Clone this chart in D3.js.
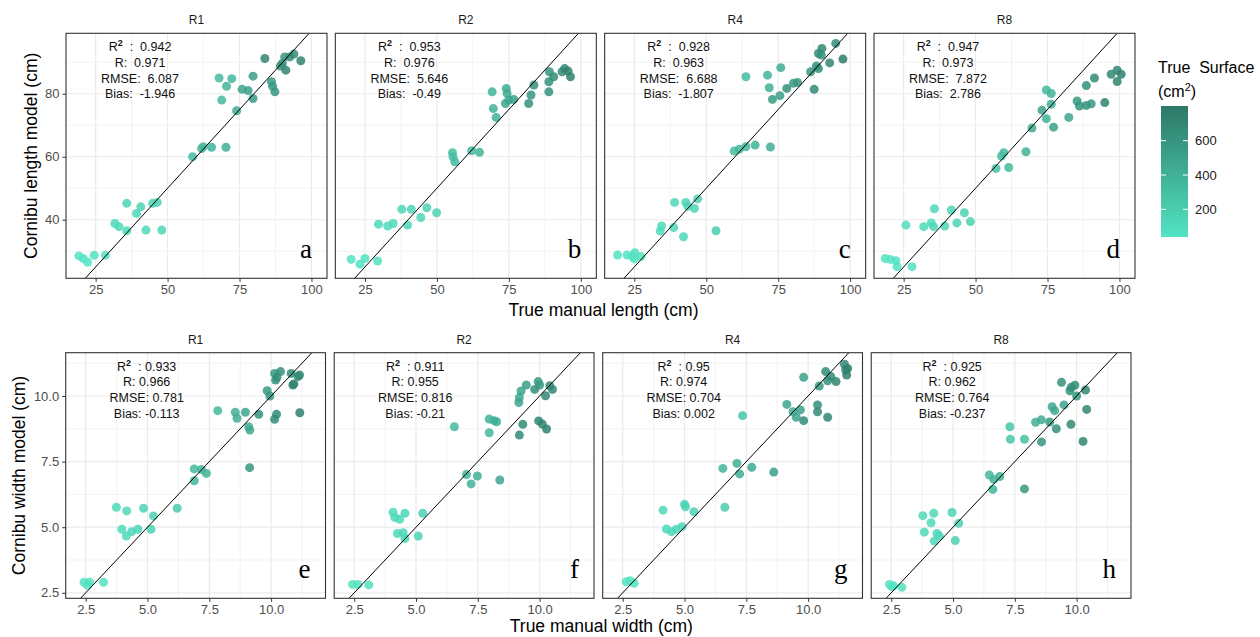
<!DOCTYPE html>
<html>
<head>
<meta charset="utf-8">
<script src="https://cdn.jsdelivr.net/npm/d3@7"></script>
<style>
  html, body { margin: 0; padding: 0; background: #fff; }
  svg { display: block; font-family: "Liberation Sans", Arial, sans-serif; }
</style>
</head>
<body>
<svg id="chart" width="1260" height="637"></svg>
<script>
// ---- data: [true manual, Cornibu model, true surface (cm²)] ----
const panelNames = ["R1", "R2", "R4", "R8"];

const lengthR1 = [
  [19.2,28.5,45],[20.7,27.7,50],[22.2,26.5,42],[24.5,28.7,55],[28.4,28.7,62],
  [31.7,38.8,120],[33.1,37.8,112],[35.8,45.2,140],[35.8,36.5,115],[39.2,42.0,130],
  [40.7,44.1,150],[42.5,36.7,125],[44.8,45.2,160],[46.4,45.5,170],[48.0,36.7,145],
  [58.7,60.0,330],[61.8,62.6,350],[62.4,63.2,360],[65.3,63.0,370],[70.3,63.0,420],
  [67.9,85.0,330],[68.8,78.0,340],[70.5,82.4,380],[72.3,84.8,360],[74.0,74.6,440],
  [75.9,81.4,500],[78.0,81.0,520],[79.7,85.6,540],[79.7,78.5,560],[83.8,91.2,700],
  [86.1,83.8,560],[86.5,82.4,580],[87.3,80.6,600],[89.2,88.8,620],[90.7,91.7,600],
  [91.1,87.5,720],[92.5,91.7,650],[93.9,92.6,680],[96.3,90.5,720],[89.9,89.6,640]
];
const lengthR2 = [
  [20.2,27.4,45],[23.3,25.9,50],[25.0,27.7,55],[29.4,26.9,60],
  [29.7,38.6,110],[32.9,38.0,115],[34.8,38.8,120],[37.8,43.3,130],[39.8,38.3,135],
  [41.1,43.3,140],[44.4,40.7,150],[46.5,43.8,160],[49.9,42.2,175],
  [55.4,61.3,310],[55.6,60.0,320],[56.2,58.4,330],[62.1,61.9,360],[64.8,61.4,380],
  [69.2,80.6,380],[69.6,75.3,400],[70.6,72.5,420],[74.1,81.7,430],[74.4,80.1,450],
  [73.8,76.9,470],[75.0,78.0,480],[76.7,78.2,500],[81.9,76.9,620],[82.7,79.6,600],
  [83.7,82.8,620],[88.9,80.6,640],[88.9,83.8,620],[89.1,87.0,600],[90.6,85.4,660],
  [93.5,87.0,680],[94.4,88.0,700],[95.6,87.2,720],[96.4,85.4,740]
];
const lengthR4 = [
  [19.2,28.8,45],[22.5,28.8,50],[24.4,28.3,52],[25.2,29.5,55],[27.3,28.3,60],[25.0,27.6,48],
  [34.0,36.4,110],[34.5,38.0,115],[38.7,37.5,125],[39.0,45.5,130],[42.1,34.6,135],
  [42.9,45.5,145],[43.6,44.3,150],[45.9,43.6,160],[47.0,46.6,170],[53.4,36.5,200],
  [59.7,61.8,330],[61.5,62.4,350],[63.8,63.2,370],[67.0,63.7,390],[72.3,63.1,420],
  [63.8,85.4,330],[71.3,85.9,400],[71.9,81.9,420],[75.9,88.3,430],[73.0,78.2,560],
  [75.6,79.4,520],[78.0,81.7,620],[80.3,83.3,560],[81.7,83.6,580],[86.3,87.0,600],
  [87.5,81.4,680],[88.3,88.8,620],[89.0,88.0,640],[90.2,94.4,680],[89.0,92.8,660],
  [90.0,92.3,620],[92.9,89.8,700],[95.0,96.0,660],[97.5,91.0,760]
];
const lengthR8 = [
  [18.6,27.7,45],[20.4,27.4,48],[22.3,27.0,52],[22.7,25.1,55],[27.9,25.1,62],
  [25.8,38.3,80],[32.0,37.8,110],[34.6,39.0,120],[35.4,37.8,125],[35.7,43.5,130],
  [39.3,38.0,135],[41.6,43.1,145],[43.5,39.0,150],[46.1,42.2,165],[48.2,39.4,175],
  [57.1,56.3,300],[59.0,60.2,320],[59.8,61.3,330],[61.5,56.6,340],[67.5,61.6,400],
  [69.6,69.1,440],
  [74.6,81.2,360],[76.3,80.1,380],[76.3,76.7,420],[73.1,74.8,500],[74.6,72.1,380],
  [77.1,69.4,520],[82.4,72.5,480],[85.3,77.7,560],[86.1,76.1,600],[88.5,76.3,620],
  [90.2,76.8,600],[88.5,82.6,640],[91.3,85.0,660],[94.9,77.2,720],[97.1,86.2,680],
  [99.2,87.5,700],[100.6,86.2,740],[99.2,83.9,720]
];

const widthR1 = [
  [2.43,2.90,45],[2.57,2.79,50],[2.65,2.90,52],[3.22,2.90,60],
  [3.74,5.76,110],[3.96,4.92,115],[4.14,4.66,120],[4.16,5.62,125],[4.36,4.83,130],
  [4.61,4.92,140],[4.84,5.72,150],[5.14,4.92,160],[5.24,5.43,165],[6.20,5.72,200],
  [6.89,7.22,340],[6.89,6.77,360],[7.18,7.20,380],[7.38,7.05,400],[9.13,7.27,600],
  [7.84,9.44,360],[8.55,9.38,420],[8.62,9.15,440],[8.96,9.38,480],[9.09,8.83,440],
  [9.14,8.70,460],[9.50,9.30,620],[9.84,10.20,560],[9.95,10.00,580],[10.14,10.86,600],
  [10.18,10.61,620],[10.24,10.71,640],[10.14,9.11,660],[10.22,9.30,680],[10.38,10.93,640],
  [10.81,10.86,660],[10.88,10.42,700],[10.92,10.46,720],[11.09,10.74,700],[11.16,9.36,760],
  [11.15,10.80,680]
];
const widthR2 = [
  [2.43,2.82,45],[2.64,2.82,50],[3.09,2.80,60],
  [4.07,5.57,110],[4.14,5.37,115],[4.34,5.30,125],[4.55,5.53,130],[4.25,4.76,120],
  [4.48,4.79,135],[4.55,4.57,140],[5.09,4.66,160],[5.27,5.53,170],
  [6.55,8.83,330],[7.04,7.01,380],[7.23,6.65,400],[7.48,6.95,420],[8.39,6.80,480],
  [7.96,9.12,380],[8.16,9.06,400],[8.26,9.02,420],[7.96,8.60,360],[9.16,9.75,480],
  [9.18,9.94,470],[9.25,10.19,500],[9.46,10.42,540],[9.80,10.25,640],[9.94,10.55,560],
  [10.00,10.42,580],[10.41,10.39,660],[10.52,10.25,700],[10.24,10.01,680],[9.32,8.92,660],
  [9.18,8.51,680],[9.96,9.05,700],[10.11,8.93,720],[10.28,8.74,740]
];
const widthR4 = [
  [2.64,2.92,45],[2.80,2.96,50],[2.96,2.86,55],
  [4.13,5.65,110],[4.27,4.93,115],[4.47,4.83,125],[4.67,4.92,130],[4.90,5.02,140],
  [5.00,5.87,150],[5.04,5.78,155],[5.38,5.59,170],[6.63,5.76,220],
  [6.55,7.24,370],[7.12,7.43,420],[7.23,7.03,440],[7.72,7.28,460],[8.61,7.10,520],
  [7.35,9.25,260],[9.14,9.68,480],[9.39,9.40,460],[9.52,9.19,500],[9.69,9.47,520],
  [9.82,9.06,660],[9.82,10.71,520],[10.38,9.66,640],[10.38,9.40,680],[10.45,10.38,600],
  [10.71,10.93,660],[10.79,10.58,640],[10.79,9.19,700],[10.92,10.74,680],[11.13,10.55,720],
  [11.47,11.21,700],[11.52,10.99,740],[11.56,10.80,760],[11.60,11.05,740]
];
const widthR8 = [
  [2.43,2.82,45],[2.59,2.77,50],[2.93,2.71,60],[2.53,2.73,48],
  [3.78,5.44,110],[3.84,4.81,115],[4.11,5.17,120],[4.22,5.53,125],[4.24,4.47,130],
  [4.35,4.76,135],[4.45,4.66,140],[4.96,5.56,160],[5.09,4.49,170],[5.23,5.15,180],
  [6.47,6.99,360],[6.65,6.82,380],[6.89,6.93,400],[6.61,6.44,370],[7.89,6.46,560],
  [7.30,8.83,260],[7.32,8.35,260],[7.89,8.35,300],[8.58,8.25,600],[8.34,9.00,420],
  [8.57,9.09,440],[8.91,9.01,560],[9.01,9.59,460],[9.11,9.44,480],[9.18,8.75,640],
  [9.49,9.66,480],[9.39,10.52,620],[9.73,10.20,620],[9.78,10.33,640],[9.93,10.41,660],
  [10.00,10.00,600],[10.36,10.23,700],[10.41,9.49,700],[9.77,8.92,700],[10.26,8.27,720]
];

// fit statistics shown in each panel: R², R, RMSE, Bias
const lengthStats = [
  ["0.942", "0.971", "6.087", "-1.946"],
  ["0.953", "0.976", "5.646", "-0.49"],
  ["0.928", "0.963", "6.688", "-1.807"],
  ["0.947", "0.973", "7.872", "2.786"]
];
const widthStats = [
  ["0.933", "0.966", "0.781", "-0.113"],
  ["0.911", "0.955", "0.816", "-0.21"],
  ["0.95",  "0.974", "0.704", "0.002"],
  ["0.925", "0.962", "0.764", "-0.237"]
];

const lengthLetters = ["a", "b", "c", "d"];
const widthLetters = ["e", "f", "g", "h"];

const lengthXTicks = [25, 50, 75, 100];
const lengthYTicks = [40, 60, 80];
const lengthMinorX = [37.5, 62.5, 87.5];
const lengthMinorY = [30, 50, 70, 90];
const widthTicks = [2.5, 5.0, 7.5, 10.0];
const widthMinor = [3.75, 6.25, 8.75, 11.25];
const legendTicks = [200, 400, 600];

// ---- layout ----
const svg = d3.select("#chart");
const surfaceDomain = [39, 802];
const color = d3.scaleLinear().domain(surfaceDomain).range(["#53e4c3", "#2c7866"]);

const rows = [
  {
    data: [lengthR1, lengthR2, lengthR4, lengthR8],
    stats: lengthStats, letters: lengthLetters,
    xDomain: [14.7, 105.4], yDomain: [21.4, 99.2],
    xTicks: lengthXTicks, yTicks: lengthYTicks,
    xMinor: lengthMinorX, yMinor: lengthMinorY,
    fmt: d3.format("d"),
    top: 33.3, bottom: 278.3, left: 66, width: 261, gap: 8.33,
    statDx: 74, statSep: "  :  ", statColon: ":  ",
    yTitle: "Cornibu length model (cm)", yTitleX: 31,
    xTitle: "True manual length (cm)", xTitleY: 316
  },
  {
    data: [widthR1, widthR2, widthR4, widthR8],
    stats: widthStats, letters: widthLetters,
    xDomain: [1.69, 12.2], yDomain: [2.29, 11.65],
    xTicks: widthTicks, yTicks: widthTicks,
    xMinor: widthMinor, yMinor: widthMinor,
    fmt: d3.format(".1f"),
    top: 352.7, bottom: 598.3, left: 65.7, width: 259.8, gap: 8.7,
    statDx: 81, statSep: "  : ", statColon: ": ",
    yTitle: "Cornibu width model (cm)", yTitleX: 19,
    xTitle: "True manual width (cm)", xTitleY: 632
  }
];

rows.forEach((row, ri) => {
  row.data.forEach((pts, pi) => {
    const x0 = row.left + pi * (row.width + row.gap);
    const x1 = x0 + row.width;
    const xs = d3.scaleLinear().domain(row.xDomain).range([x0, x1]);
    const ys = d3.scaleLinear().domain(row.yDomain).range([row.bottom, row.top]);
    const g = svg.append("g");
    const clipId = `clip-${ri}-${pi}`;
    g.append("clipPath").attr("id", clipId)
      .append("rect").attr("x", x0).attr("y", row.top)
      .attr("width", row.width).attr("height", row.bottom - row.top);

    // grid
    const grid = g.append("g").attr("clip-path", `url(#${clipId})`);
    grid.selectAll(".vmin").data(row.xMinor).join("line")
      .attr("x1", d => xs(d)).attr("x2", d => xs(d))
      .attr("y1", row.top).attr("y2", row.bottom)
      .attr("stroke", "#ebebeb").attr("stroke-width", 0.6);
    grid.selectAll(".hmin").data(row.yMinor).join("line")
      .attr("y1", d => ys(d)).attr("y2", d => ys(d))
      .attr("x1", x0).attr("x2", x1)
      .attr("stroke", "#ebebeb").attr("stroke-width", 0.6);
    grid.selectAll(".vmaj").data(row.xTicks).join("line")
      .attr("x1", d => xs(d)).attr("x2", d => xs(d))
      .attr("y1", row.top).attr("y2", row.bottom)
      .attr("stroke", "#ebebeb").attr("stroke-width", 1.2);
    grid.selectAll(".hmaj").data(row.yTicks).join("line")
      .attr("y1", d => ys(d)).attr("y2", d => ys(d))
      .attr("x1", x0).attr("x2", x1)
      .attr("stroke", "#ebebeb").attr("stroke-width", 1.2);

    // points
    const plot = g.append("g").attr("clip-path", `url(#${clipId})`);
    plot.selectAll("circle").data(pts).join("circle")
      .attr("cx", d => xs(d[0])).attr("cy", d => ys(d[1]))
      .attr("r", 4.5)
      .attr("fill", d => color(d[2]))
      .attr("fill-opacity", 0.85);

    // 1:1 line
    const lo = Math.max(row.xDomain[0], row.yDomain[0]);
    const hi = Math.min(row.xDomain[1], row.yDomain[1]);
    plot.append("line")
      .attr("x1", xs(lo)).attr("y1", ys(lo))
      .attr("x2", xs(hi)).attr("y2", ys(hi))
      .attr("stroke", "#000").attr("stroke-width", 1);

    // border
    g.append("rect").attr("x", x0).attr("y", row.top)
      .attr("width", row.width).attr("height", row.bottom - row.top)
      .attr("fill", "none").attr("stroke", "#333").attr("stroke-width", 1.1);

    // x axis
    const xAxis = d3.axisBottom(xs).tickValues(row.xTicks).tickFormat(row.fmt)
      .tickSize(3.5).tickPadding(3);
    const xa = g.append("g").attr("transform", `translate(0,${row.bottom})`).call(xAxis);
    xa.select(".domain").remove();
    xa.selectAll(".tick line").attr("stroke", "#333").attr("stroke-width", 1);
    xa.selectAll(".tick text").attr("fill", "#4d4d4d")
      .style("font-size", "13px").style("font-family", "'Liberation Sans', Arial, sans-serif");

    // y axis on first panel only
    if (pi === 0) {
      const yAxis = d3.axisLeft(ys).tickValues(row.yTicks).tickFormat(row.fmt)
        .tickSize(3.5).tickPadding(3);
      const ya = g.append("g").attr("transform", `translate(${x0},0)`).call(yAxis);
      ya.select(".domain").remove();
      ya.selectAll(".tick line").attr("stroke", "#333").attr("stroke-width", 1);
      ya.selectAll(".tick text").attr("fill", "#4d4d4d")
        .style("font-size", "13px").style("font-family", "'Liberation Sans', Arial, sans-serif");
    }

    // strip title
    g.append("text").attr("x", (x0 + x1) / 2).attr("y", row.top - 9)
      .attr("text-anchor", "middle").attr("fill", "#1a1a1a")
      .style("font-size", "12px").text(panelNames[pi]);

    // statistics block
    const s = row.stats[pi];
    const sx = x0 + row.statDx;
    const sy = row.top + 18;
    const lh = 15.7;
    const t0 = g.append("text").attr("x", sx).attr("y", sy)
      .attr("text-anchor", "middle").attr("fill", "#111")
      .style("font-size", "12.5px").style("white-space", "pre");
    t0.append("tspan").text("R");
    t0.append("tspan").attr("dy", -5).style("font-size", "9px").style("font-weight", "bold").text("2");
    t0.append("tspan").attr("dy", 5).text(row.statSep + s[0]);
    [["R", s[1]], ["RMSE", s[2]], ["Bias", s[3]]].forEach((d, k) => {
      g.append("text").attr("x", sx).attr("y", sy + lh * (k + 1))
        .attr("text-anchor", "middle").attr("fill", "#111")
        .style("font-size", "12.5px").style("white-space", "pre")
        .text(d[0] + row.statColon + d[1]);
    });

    // panel letter
    g.append("text").attr("x", x1 - 15).attr("y", row.bottom - 20)
      .attr("text-anchor", "end").attr("fill", "#000")
      .style("font-family", "'Liberation Serif', 'DejaVu Serif', serif")
      .style("font-size", "27px").text(row.letters[pi]);
  });

  // row axis titles
  const rowLeft = row.left;
  const rowRight = row.left + 4 * row.width + 3 * row.gap;
  svg.append("text")
    .attr("transform", `translate(${row.yTitleX},${(row.top + row.bottom) / 2}) rotate(-90)`)
    .attr("text-anchor", "middle").attr("dominant-baseline", "central")
    .attr("fill", "#000").style("font-size", "17.5px").text(row.yTitle);
  svg.append("text").attr("x", (rowLeft + rowRight) / 2 + 3).attr("y", row.xTitleY)
    .attr("text-anchor", "middle").attr("fill", "#000")
    .style("font-size", "17.5px").text(row.xTitle);
});

// ---- colour legend ----
const legX = 1161, legW = 27, legTop = 106, legBottom = 237;
const legScale = d3.scaleLinear().domain(surfaceDomain).range([legBottom, legTop]);
const defs = svg.append("defs");
const grad = defs.append("linearGradient").attr("id", "surfGrad")
  .attr("x1", 0).attr("y1", 1).attr("x2", 0).attr("y2", 0);
d3.range(0, 1.0001, 0.1).forEach(t => {
  grad.append("stop").attr("offset", t)
    .attr("stop-color", color(surfaceDomain[0] + t * (surfaceDomain[1] - surfaceDomain[0])));
});
svg.append("rect").attr("x", legX).attr("y", legTop).attr("width", legW)
  .attr("height", legBottom - legTop).attr("fill", "url(#surfGrad)");
const legAxis = svg.append("g");
legendTicks.forEach(v => {
  const y = legScale(v);
  legAxis.append("line").attr("x1", legX).attr("x2", legX + 5).attr("y1", y).attr("y2", y)
    .attr("stroke", "#fff").attr("stroke-width", 1);
  legAxis.append("line").attr("x1", legX + legW - 5).attr("x2", legX + legW).attr("y1", y).attr("y2", y)
    .attr("stroke", "#fff").attr("stroke-width", 1);
  legAxis.append("text").attr("x", legX + legW + 7).attr("y", y)
    .attr("dominant-baseline", "central").attr("fill", "#1a1a1a")
    .style("font-size", "13px").text(v);
});
svg.append("text").attr("x", 1158).attr("y", 73).attr("fill", "#000")
  .style("font-size", "16px").style("white-space", "pre").text("True  Surface");
const lt = svg.append("text").attr("x", 1158).attr("y", 97).attr("fill", "#000")
  .style("font-size", "16px");
lt.append("tspan").text("(cm");
lt.append("tspan").attr("dy", -6).style("font-size", "11px").text("2");
lt.append("tspan").attr("dy", 6).text(")");
</script>
</body>
</html>
